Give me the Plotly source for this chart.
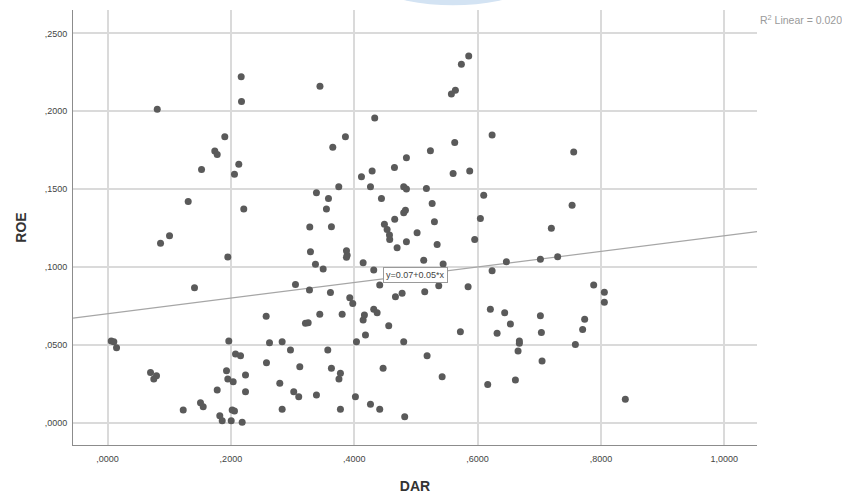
import plotly.graph_objects as go

# DAR / ROE observations (rows of ten, same order in both lists)
dar = [
    # lower-left cloud
    0.2167, 0.0806, 0.2172, 0.3444, 0.1901, 0.1739, 0.1778, 0.2128, 0.2058, 0.1524,
    0.1308, 0.2209, 0.1005, 0.0859, 0.1950, 0.1410, 0.3387, 0.3582, 0.3549, 0.3630,
    0.3279, 0.3290, 0.3371, 0.3496, 0.3614, 0.3047, 0.3274, 0.2572, 0.3209, 0.3253,
    0.3441, 0.0060, 0.0102, 0.0146, 0.1966, 0.2626, 0.2831, 0.2966, 0.3571, 0.2075,
    0.2156, 0.2577, 0.3117, 0.3630, 0.0697, 0.0794, 0.0750, 0.1929, 0.2237, 0.1950,
    0.2037, 0.1778, 0.2237, 0.2793, 0.3019, 0.3100, 0.3387, 0.1507, 0.1551, 0.1227,
    0.2021, 0.2058, 0.2831, 0.1820, 0.1859, 0.2005, 0.2183,
    # central cloud
    0.5856, 0.5737, 0.5640, 0.5575, 0.4332, 0.3857, 0.3652, 0.6235, 0.5629, 0.5235,
    0.4846, 0.4652, 0.4290, 0.4117, 0.5603, 0.5872, 0.3749, 0.4263, 0.4802, 0.4846,
    0.5170, 0.4441, 0.5263, 0.6099, 0.4830, 0.4802, 0.4656, 0.5300, 0.6045, 0.4489,
    0.4533, 0.4571, 0.4575, 0.5019, 0.4846, 0.4695, 0.5344, 0.5953, 0.3874, 0.3885,
    0.3874, 0.4144, 0.5126, 0.5441, 0.4316, 0.6467, 0.6235, 0.4413, 0.5370, 0.5143,
    0.5846, 0.4776, 0.4668, 0.3927, 0.3976, 0.3804, 0.4165, 0.4144, 0.4316, 0.4371,
    0.4559, 0.4182, 0.4036, 0.4802, 0.5721, 0.6207, 0.6439, 0.6532, 0.6316, 0.5181,
    0.3776, 0.3752, 0.4468, 0.5425, 0.6164, 0.4019, 0.4263, 0.4413, 0.3776, 0.4818,
    # right-hand group
    0.7558, 0.7532, 0.7196, 0.7018, 0.7298, 0.7882, 0.8055, 0.8055, 0.7018, 0.7736,
    0.7034, 0.7703, 0.6677, 0.6677, 0.6656, 0.7585, 0.7045, 0.6613, 0.8395,
]
roe = [
    # lower-left cloud
    0.2221, 0.2013, 0.2063, 0.2161, 0.1836, 0.1744, 0.1723, 0.1660, 0.1596, 0.1626,
    0.1421, 0.1372, 0.1200, 0.1153, 0.1064, 0.0866, 0.1476, 0.1440, 0.1372, 0.1259,
    0.1256, 0.1098, 0.1017, 0.0987, 0.0836, 0.0888, 0.0852, 0.0683, 0.0638, 0.0642,
    0.0696, 0.0524, 0.0520, 0.0481, 0.0524, 0.0513, 0.0520, 0.0467, 0.0467, 0.0441,
    0.0430, 0.0385, 0.0359, 0.0349, 0.0323, 0.0302, 0.0280, 0.0334, 0.0306, 0.0280,
    0.0263, 0.0210, 0.0199, 0.0253, 0.0199, 0.0167, 0.0178, 0.0128, 0.0103, 0.0082,
    0.0082, 0.0075, 0.0086, 0.0045, 0.0013, 0.0013, 0.0003,
    # central cloud
    0.2354, 0.2302, 0.2135, 0.2110, 0.1956, 0.1836, 0.1768, 0.1847, 0.1800, 0.1746,
    0.1701, 0.1639, 0.1617, 0.1579, 0.1601, 0.1616, 0.1515, 0.1515, 0.1515, 0.1500,
    0.1504, 0.1440, 0.1408, 0.1461, 0.1365, 0.1348, 0.1306, 0.1290, 0.1312, 0.1275,
    0.1241, 0.1205, 0.1177, 0.1220, 0.1162, 0.1123, 0.1145, 0.1177, 0.1104, 0.1076,
    0.1062, 0.1027, 0.1044, 0.1019, 0.0980, 0.1033, 0.0976, 0.0884, 0.0879, 0.0841,
    0.0873, 0.0831, 0.0809, 0.0802, 0.0766, 0.0696, 0.0691, 0.0659, 0.0728, 0.0706,
    0.0623, 0.0563, 0.0520, 0.0520, 0.0584, 0.0728, 0.0706, 0.0634, 0.0574, 0.0430,
    0.0317, 0.0280, 0.0349, 0.0295, 0.0246, 0.0167, 0.0118, 0.0086, 0.0086, 0.0039,
    # right-hand group
    0.1739, 0.1397, 0.1248, 0.1049, 0.1065, 0.0884, 0.0837, 0.0773, 0.0687, 0.0664,
    0.0580, 0.0599, 0.0524, 0.0510, 0.0460, 0.0503, 0.0396, 0.0274, 0.0150,
]

intercept = 0.07
slope = 0.05
r_squared = 0.020

x_ticks = [0.0, 0.2, 0.4, 0.6, 0.8, 1.0]
x_tick_text = [",0000", ",2000", ",4000", ",6000", ",8000", "1,0000"]
y_ticks = [0.0, 0.05, 0.10, 0.15, 0.20, 0.25]
y_tick_text = [",0000", ",0500", ",1000", ",1500", ",2000", ",2500"]

x_range = [-0.056, 1.053]
y_range = [-0.0143, 0.265]

fig = go.Figure()

# fitted linear trend across the full axis span
fit_x = x_range
fit_y = [intercept + slope * v for v in fit_x]
fig.add_trace(go.Scatter(
    x=fit_x, y=fit_y, mode="lines",
    line=dict(color="#a6a6a6", width=1.2),
    hoverinfo="skip", showlegend=False,
))

fig.add_trace(go.Scatter(
    x=dar, y=roe, mode="markers",
    marker=dict(color="#5a5a5a", size=7, line=dict(width=0)),
    showlegend=False,
))

font_family = "Liberation Sans, Arial, sans-serif"

fig.update_layout(
    width=842, height=495,
    margin=dict(l=73, r=85, t=10, b=50),
    paper_bgcolor="white", plot_bgcolor="white",
    font=dict(family=font_family, color="#333333"),
    xaxis=dict(
        range=x_range, tickvals=x_ticks, ticktext=x_tick_text,
        showgrid=True, gridcolor="#dadada", gridwidth=1.5,
        zeroline=False, showline=True, linecolor="#8c8c8c", linewidth=1,
        ticks="", ticklabelstandoff=5, automargin=False,
        tickfont=dict(size=9, color="#444444"),
        title=dict(text="<b>DAR</b>", font=dict(size=14, color="#333333"), standoff=18),
    ),
    yaxis=dict(
        range=y_range, tickvals=y_ticks, ticktext=y_tick_text,
        showgrid=True, gridcolor="#dadada", gridwidth=1.5,
        zeroline=False, showline=True, linecolor="#8c8c8c", linewidth=1,
        ticks="", ticklabelstandoff=3, automargin=False,
        tickfont=dict(size=9, color="#444444"),
        title=dict(text="<b>ROE</b>", font=dict(size=14, color="#333333"), standoff=14),
    ),
    annotations=[
        dict(
            x=0.5, y=intercept + slope * 0.5, xref="x", yref="y",
            text=f"y={intercept:.2f}+{slope:.2f}*x", showarrow=False,
            font=dict(size=9, color="#444444", family=font_family),
            bgcolor="white", bordercolor="#9a9a9a", borderwidth=1, borderpad=2,
        ),
        dict(
            x=1.0, y=1.0, xref="paper", yref="paper",
            xanchor="left", yanchor="middle", xshift=1, yshift=-9,
            text=f"R<sup>2</sup> Linear = {r_squared:.3f}",
            showarrow=False,
            font=dict(size=10.5, color="#9a9a9a", family=font_family),
        ),
    ],
    shapes=[
        # pale blue emblem peeking in at the top edge
        dict(
            type="circle", xref="paper", yref="paper",
            x0=0.209, x1=0.902, y0=2.099, y1=1.011,
            fillcolor="#d3e3f3", line=dict(width=0), layer="above",
        ),
    ],
)

fig.write_html("out.html")
